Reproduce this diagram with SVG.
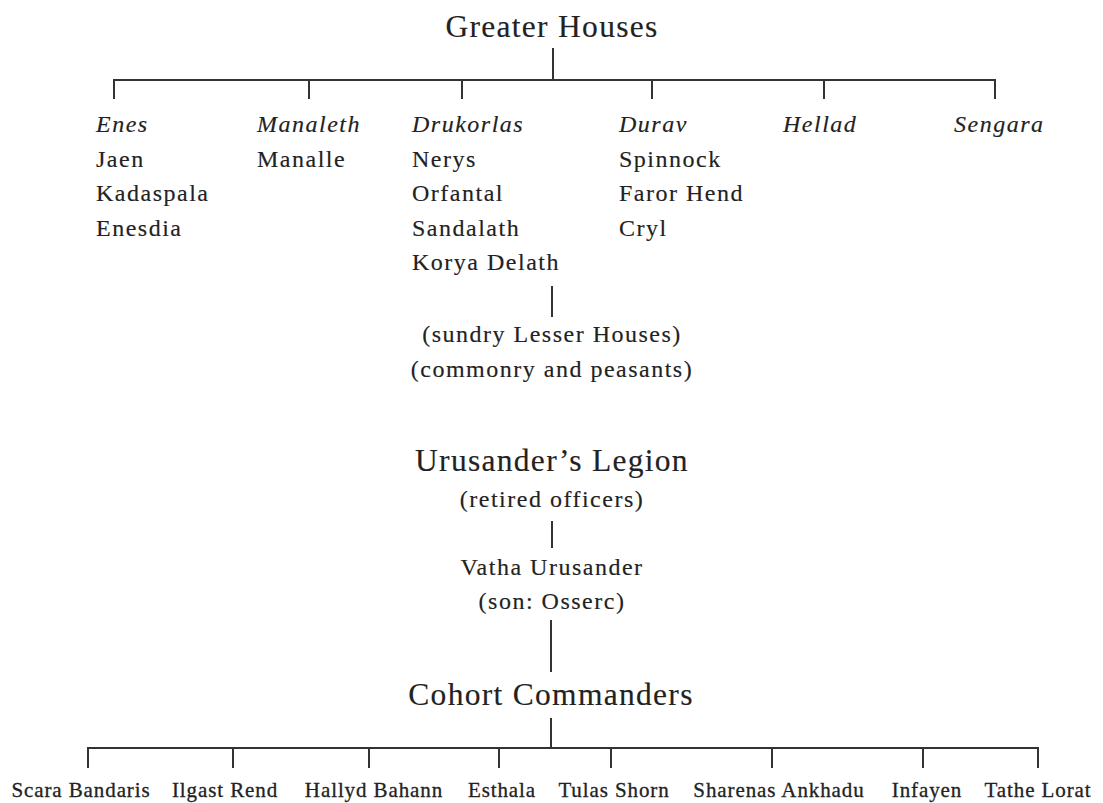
<svg xmlns="http://www.w3.org/2000/svg" width="1103" height="803" viewBox="0 0 1103 803">
<style>
text{font-family:"Liberation Serif","Times New Roman",serif;fill:#222;stroke:#222;stroke-width:0.15px}
.h{font-size:31.5px;letter-spacing:1.3px}
.b{font-size:24px;letter-spacing:1.5px}
.i{font-style:italic}
.s{font-size:21px;letter-spacing:0.9px;stroke-width:0.3px}
.c{text-anchor:middle}
.ln line{stroke:#333;stroke-width:2}
</style>
<rect width="1103" height="803" fill="#fff"/>
<g class="ln" id="connectors">
<line x1="553" y1="48" x2="553" y2="80"/>
<line x1="113" y1="80" x2="996" y2="80"/>
<line x1="114" y1="80" x2="114" y2="99"/>
<line x1="309" y1="80" x2="309" y2="99"/>
<line x1="462" y1="80" x2="462" y2="99"/>
<line x1="652" y1="80" x2="652" y2="99"/>
<line x1="824" y1="80" x2="824" y2="99"/>
<line x1="995" y1="80" x2="995" y2="99"/>
<line x1="552" y1="286" x2="552" y2="317"/>
<line x1="552" y1="521" x2="552" y2="548"/>
<line x1="551" y1="620" x2="551" y2="672"/>
<line x1="551" y1="718" x2="551" y2="748"/>
<line x1="87" y1="748" x2="1039" y2="748"/>
<line x1="88" y1="748" x2="88" y2="768"/>
<line x1="233" y1="748" x2="233" y2="768"/>
<line x1="369" y1="748" x2="369" y2="768"/>
<line x1="499" y1="748" x2="499" y2="768"/>
<line x1="611" y1="748" x2="611" y2="768"/>
<line x1="772" y1="748" x2="772" y2="768"/>
<line x1="923" y1="748" x2="923" y2="768"/>
<line x1="1038" y1="748" x2="1038" y2="768"/>
</g>
<g id="greater-houses"><text class="h c" x="552" y="37">Greater Houses</text></g>
<g id="enes">
<text class="b i" x="96" y="132">Enes</text>
<text class="b" x="96" y="166.5">Jaen</text>
<text class="b" x="96" y="201">Kadaspala</text>
<text class="b" x="96" y="235.5">Enesdia</text>
</g>
<g id="manaleth">
<text class="b i" x="257" y="132">Manaleth</text>
<text class="b" x="257" y="166.5">Manalle</text>
</g>
<g id="drukorlas">
<text class="b i" x="412" y="132">Drukorlas</text>
<text class="b" x="412" y="166.5">Nerys</text>
<text class="b" x="412" y="201">Orfantal</text>
<text class="b" x="412" y="235.5">Sandalath</text>
<text class="b" x="412" y="270">Korya Delath</text>
</g>
<g id="durav">
<text class="b i" x="619" y="132">Durav</text>
<text class="b" x="619" y="166.5">Spinnock</text>
<text class="b" x="619" y="201">Faror Hend</text>
<text class="b" x="619" y="235.5">Cryl</text>
</g>
<g id="hellad"><text class="b i" x="783" y="132">Hellad</text></g>
<g id="sengara"><text class="b i" x="954" y="132">Sengara</text></g>
<g id="lesser">
<text class="b c" x="552" y="342">(sundry Lesser Houses)</text>
<text class="b c" x="552" y="377">(commonry and peasants)</text>
</g>
<g id="legion">
<text class="h c" x="552" y="471">Urusander’s Legion</text>
<text class="b c" x="552" y="507">(retired officers)</text>
</g>
<g id="vatha">
<text class="b c" x="552" y="575">Vatha Urusander</text>
<text class="b c" x="552" y="609">(son: Osserc)</text>
</g>
<g id="cohort"><text class="h c" x="551" y="705">Cohort Commanders</text></g>
<g id="commanders">
<text class="s c" x="81" y="797">Scara Bandaris</text>
<text class="s c" x="225" y="797">Ilgast Rend</text>
<text class="s c" x="374" y="797">Hallyd Bahann</text>
<text class="s c" x="502" y="797">Esthala</text>
<text class="s c" x="614" y="797">Tulas Shorn</text>
<text class="s c" x="779" y="797">Sharenas Ankhadu</text>
<text class="s c" x="927" y="797">Infayen</text>
<text class="s c" x="1038" y="797">Tathe Lorat</text>
</g>
</svg>
